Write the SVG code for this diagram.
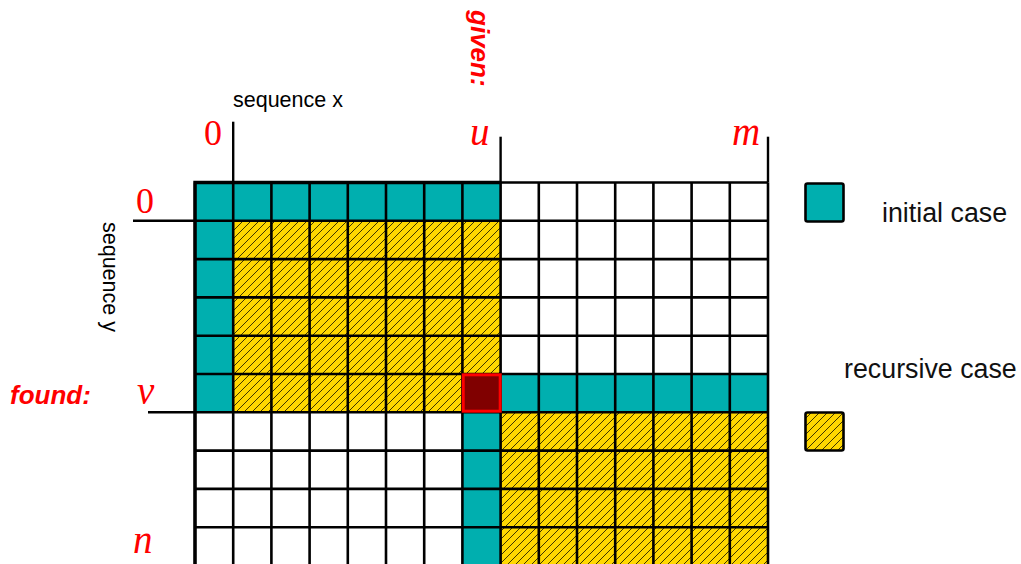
<svg xmlns="http://www.w3.org/2000/svg" width="1021" height="564" viewBox="0 0 1021 564">
<defs>
<pattern id="hatch" patternUnits="userSpaceOnUse" width="8" height="8">
<rect width="8" height="8" fill="#FFD700"/>
<path d="M0,8 L8,0 M-1,1 L1,-1 M7,9 L9,7" stroke="#000" stroke-width="0.75"/>
</pattern>
<style>
.teal{fill:#00AFAF}
.hat{fill:url(#hatch)}
.gl{stroke:#000;stroke-width:2.6;fill:none}
.math{font-family:"Liberation Serif",serif;font-style:italic;font-size:39px;fill:#FF0000}
.num{font-family:"Liberation Serif",serif;font-size:36px;fill:#FF0000}
.red{font-family:"Liberation Sans",Arial,sans-serif;font-weight:bold;font-style:italic;font-size:26px;fill:#FF0000}
.lbl{font-family:"Liberation Sans",Arial,sans-serif;font-size:21.5px;fill:#000}
.leg{font-family:"Liberation Sans",Arial,sans-serif;font-size:26.8px;fill:#111}
</style>
</defs>
<rect width="1021" height="564" fill="#fff"/>

<g id="grid">
<rect class="teal" x="195" y="182.5" width="305.6" height="38.3"/>
<rect class="teal" x="195" y="220.8" width="38.2" height="191.5"/>
<rect class="hat" x="233.2" y="220.8" width="267.4" height="191.5"/>
<rect class="teal" x="500.6" y="374" width="267.4" height="38.3"/>
<rect class="teal" x="462.4" y="412.3" width="38.2" height="153.2"/>
<rect class="hat" x="500.6" y="412.3" width="267.4" height="153.2"/>
<g class="gl">
<path d="M195,182.5V566 M233.2,182.5V566 M271.4,182.5V566 M309.6,182.5V566 M347.8,182.5V566 M386,182.5V566 M424.2,182.5V566 M462.4,182.5V566 M500.6,182.5V566 M538.8,182.5V566 M577,182.5V566 M615.2,182.5V566 M653.4,182.5V566 M691.6,182.5V566 M729.8,182.5V566 M768,182.5V566"/>
<path d="M195,182.5H768 M195,220.8H768 M195,259.1H768 M195,297.4H768 M195,335.7H768 M195,374H768 M195,412.3H768 M195,450.6H768 M195,488.9H768 M195,527.2H768"/>
</g>
<path d="M195,566V182.5H500.6" stroke="#000" stroke-width="3.4" fill="none"/>
<rect id="found-cell" x="463.2" y="374.8" width="37" height="36.4" fill="#800000" stroke="#FF0000" stroke-width="3"/>
</g>

<g id="connectors" stroke="#000" stroke-width="2.4" fill="none">
<path d="M233.2,121.7V182.5"/>
<path d="M500.6,136.7V182.5"/>
<path d="M768,136.7V182.5"/>
<path d="M133,220.8H195"/>
<path d="M148,412.3H195"/>
<path d="M148,565.5H195"/>
</g>

<g id="labels">
<text class="lbl" x="233" y="107">sequence x</text>
<text class="lbl" transform="translate(103,222) rotate(90)">sequence y</text>
<text class="num" x="204" y="145">0</text>
<text class="math" x="470" y="145">u</text>
<text class="math" x="732" y="145">m</text>
<text class="num" x="136" y="213">0</text>
<text class="math" x="137" y="404">v</text>
<text class="math" x="133" y="553">n</text>
<text class="red" x="10" y="404">found:</text>
<text class="red" transform="translate(471,10) rotate(90)">given:</text>
</g>

<g id="legend-initial">
<rect x="805.5" y="183.5" width="38" height="38" rx="2" fill="#00AFAF" stroke="#000" stroke-width="2.6"/>
<text class="leg" x="882" y="222">initial case</text>
</g>
<g id="legend-recursive">
<rect x="805.5" y="412.5" width="38" height="38" rx="2" fill="url(#hatch)" stroke="#000" stroke-width="2.6"/>
<text class="leg" x="844" y="378">recursive case</text>
</g>
</svg>
